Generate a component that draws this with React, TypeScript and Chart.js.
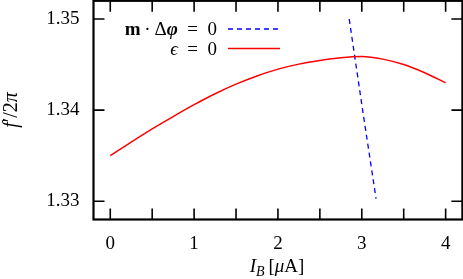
import React, { useEffect, useRef } from 'react';
import { Chart, registerables } from 'chart.js';

Chart.register(...registerables);

// ---- data ----
const IB_EPS = [0, 0.25, 0.5, 0.75, 1.0, 1.25, 1.5, 1.75, 2.0, 2.25, 2.5, 2.75, 3.0, 3.25, 3.5, 3.75, 4.0];
const FREQ_EPS = [1.335, 1.3365, 1.33795, 1.3393, 1.3406, 1.3418, 1.34285, 1.34375, 1.3445, 1.34505, 1.34545, 1.34575, 1.34588, 1.3456, 1.3450, 1.3441, 1.3430];
const IB_M = [2.85, 3.01, 3.17];
const FREQ_M = [1.350, 1.340, 1.3303];

const X_TICKS = [0, 0.5, 1, 1.5, 2, 2.5, 3, 3.5, 4];
const X_LABELS = ['0', '', '1', '', '2', '', '3', '', '4'];
const Y_TICKS = [1.33, 1.34, 1.35];
const Y_LABELS = ['1.33', '1.34', '1.35'];

const SERIF = '"Liberation Serif", "DejaVu Serif", serif';
const FS = 19;
const F_ROMAN = `${FS}px ${SERIF}`;
const F_ITALIC = `italic ${FS}px ${SERIF}`;
const F_BOLD = `bold ${FS}px ${SERIF}`;
const F_BOLDITALIC = `italic bold ${FS}px ${SERIF}`;
const F_SUB = `italic 14px ${SERIF}`;

type Run = { t: string; f: string; dy?: number };

function runsWidth(ctx: CanvasRenderingContext2D, runs: Run[]) {
  let w = 0;
  for (const r of runs) {
    ctx.font = r.f;
    w += ctx.measureText(r.t).width;
  }
  return w;
}

function drawRuns(ctx: CanvasRenderingContext2D, runs: Run[], x: number, y: number, align: 'left' | 'right' | 'center') {
  const w = runsWidth(ctx, runs);
  let cx = align === 'left' ? x : align === 'right' ? x - w : x - w / 2;
  ctx.textAlign = 'left';
  ctx.textBaseline = 'alphabetic';
  for (const r of runs) {
    ctx.font = r.f;
    ctx.fillText(r.t, cx, y + (r.dy || 0));
    cx += ctx.measureText(r.t).width;
  }
}

const TICK = 11;
const SP = '\u2002'; // en space, math-like spacing

const decorPlugin = {
  id: 'decor',
  afterDraw(chart: any) {
    const { ctx, chartArea: a, scales } = chart;
    const xs = scales.x;
    const ys = scales.y;
    ctx.save();
    ctx.strokeStyle = '#000';
    ctx.lineWidth = 1.6;
    ctx.beginPath();
    for (const t of X_TICKS) {
      const px = xs.getPixelForValue(t);
      ctx.moveTo(px, a.bottom);
      ctx.lineTo(px, a.bottom - TICK);
      ctx.moveTo(px, a.top);
      ctx.lineTo(px, a.top + TICK);
    }
    for (const t of Y_TICKS) {
      const py = ys.getPixelForValue(t);
      ctx.moveTo(a.left, py);
      ctx.lineTo(a.left + TICK, py);
      ctx.moveTo(a.right, py);
      ctx.lineTo(a.right - TICK, py);
    }
    ctx.stroke();
    ctx.lineWidth = 2.2;
    ctx.strokeRect(a.left, a.top, a.right - a.left, a.bottom - a.top);

    // legend
    ctx.fillStyle = '#000';
    const legRight = 217;
    drawRuns(ctx, [
      { t: 'm', f: F_BOLD },
      { t: '\u2009\u00B7\u2009', f: F_ROMAN },
      { t: '\u0394', f: F_ROMAN },
      { t: '\u03C6', f: F_BOLDITALIC },
      { t: SP + '=' + SP + '0', f: F_ROMAN },
    ], legRight, 34.5, 'right');
    drawRuns(ctx, [
      { t: '\u03F5', f: F_ITALIC },
      { t: SP + '=' + SP + '0', f: F_ROMAN },
    ], legRight, 54.5, 'right');
    ctx.lineWidth = 1.3;
    ctx.strokeStyle = '#0000ff';
    ctx.setLineDash([5, 4]);
    ctx.beginPath();
    ctx.moveTo(228, 29);
    ctx.lineTo(280, 29);
    ctx.stroke();
    ctx.setLineDash([]);
    ctx.lineWidth = 1.5;
    ctx.strokeStyle = '#ff0000';
    ctx.beginPath();
    ctx.moveTo(228, 48.5);
    ctx.lineTo(280, 48.5);
    ctx.stroke();

    // x title
    ctx.fillStyle = '#000';
    drawRuns(ctx, [
      { t: 'I', f: F_ITALIC },
      { t: 'B', f: F_SUB, dy: 4 },
      { t: '\u2009[', f: F_ROMAN },
      { t: '\u03BC', f: F_ITALIC },
      { t: 'A]', f: F_ROMAN },
    ], 277, 271.5, 'center');

    // y title
    ctx.save();
    ctx.translate(16.5, 110);
    ctx.rotate(-Math.PI / 2);
    drawRuns(ctx, [
      { t: 'f', f: `italic 20px ${SERIF}` },
      { t: '\u2032', f: `20px ${SERIF}` },
      { t: '/2', f: `20px ${SERIF}` },
      { t: '\u03C0', f: `italic 20px ${SERIF}` },
    ], 0, 0, 'center');
    ctx.restore();
    ctx.restore();
  },
};

function zeroPad(s: any) {
  s.paddingTop = 0;
  s.paddingBottom = 0;
  s.paddingLeft = 0;
  s.paddingRight = 0;
}

export default function App() {
  const ref = useRef<HTMLCanvasElement | null>(null);
  useEffect(() => {
    if (!ref.current) return;
    const chart = new Chart(ref.current, {
      type: 'line',
      data: {
        datasets: [
          {
            label: 'eps',
            data: IB_EPS.map((x, i) => ({ x, y: FREQ_EPS[i] })),
            borderColor: '#ff0000',
            borderWidth: 1.5,
            pointRadius: 0,
            cubicInterpolationMode: 'monotone',
            fill: false,
          },
          {
            label: 'm',
            data: IB_M.map((x, i) => ({ x, y: FREQ_M[i] })),
            borderColor: '#0000ff',
            borderWidth: 1.3,
            borderDash: [5, 4],
            pointRadius: 0,
            tension: 0,
            fill: false,
          },
        ],
      },
      options: {
        animation: false,
        responsive: false,
        devicePixelRatio: 1,
        layout: { padding: { left: 0, top: 0.8, right: 0.6, bottom: 0 } },
        plugins: { legend: { display: false }, tooltip: { enabled: false } },
        scales: {
          x: {
            type: 'linear',
            min: -0.2,
            max: 4.2,
            grid: { display: false },
            border: { display: false },
            afterFit: (s: any) => { s.height = 59.5; zeroPad(s); },
            afterBuildTicks: (s: any) => { s.ticks = X_TICKS.map((v) => ({ value: v })); },
            ticks: {
              autoSkip: false,
              maxRotation: 0,
              padding: 5.5,
              color: '#000',
              font: { family: SERIF, size: FS },
              callback: (_v: any, i: number) => X_LABELS[i],
            },
          },
          y: {
            type: 'linear',
            min: 1.328,
            max: 1.352,
            grid: { display: false },
            border: { display: false },
            afterFit: (s: any) => { s.width = 93.5; zeroPad(s); },
            afterBuildTicks: (s: any) => { s.ticks = Y_TICKS.map((v) => ({ value: v })); },
            ticks: {
              autoSkip: false,
              padding: 6,
              color: '#000',
              font: { family: SERIF, size: FS },
              callback: (_v: any, i: number) => Y_LABELS[i],
            },
          },
        },
      },
      plugins: [decorPlugin],
    });
    return () => chart.destroy();
  }, []);
  return (
    <div style={{ position: 'fixed', left: 0, top: 0, width: 463, height: 279, background: '#fff' }}>
      <canvas ref={ref} width={463} height={279} />
    </div>
  );
}
